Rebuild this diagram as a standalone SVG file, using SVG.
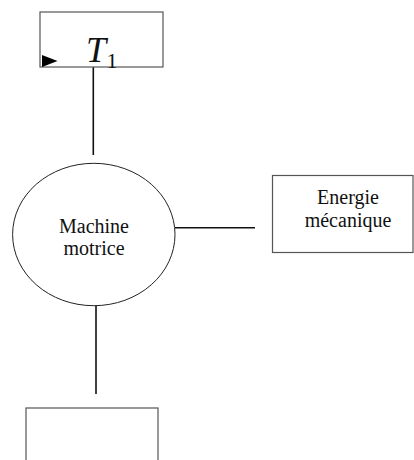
<svg xmlns="http://www.w3.org/2000/svg" width="414" height="460" viewBox="0 0 414 460">
  <style>
    .box { fill: #ffffff; stroke: #555555; stroke-width: 1.2; }
    .oval { fill: #ffffff; stroke: #222222; stroke-width: 1; }
    .wire { stroke: #111111; stroke-width: 1.6; fill: none; }
    .lbl { font-family: "Liberation Serif", "Times New Roman", serif; font-size: 20px; fill: #111111; text-anchor: middle; }
    .math { font-family: "Liberation Serif", "Times New Roman", serif; fill: #111111; }
  </style>
  <g id="connectors">
    <line class="wire" x1="93.3" y1="67" x2="93.3" y2="155"/>
    <line class="wire" x1="175" y1="227.7" x2="255" y2="227.7"/>
    <line class="wire" x1="96" y1="306" x2="96" y2="394"/>
  </g>
  <g id="t1">
    <rect class="box" x="40" y="12" width="123" height="55"/>
    <polygon points="42,55 57.5,61 42,67" fill="#000000"/>
    <text class="math" x="86" y="62" font-size="36" font-style="italic">T</text>
    <text class="math" x="106.5" y="68" font-size="22">1</text>
  </g>
  <g id="machine">
    <ellipse class="oval" cx="93.8" cy="234.5" rx="81.2" ry="71.2"/>
    <text class="lbl" x="94" y="233">Machine</text>
    <text class="lbl" x="94" y="255">motrice</text>
  </g>
  <g id="energie">
    <rect class="box" x="272.5" y="175.5" width="140.5" height="77"/>
    <text class="lbl" x="348" y="204">Energie</text>
    <text class="lbl" x="348" y="227">mécanique</text>
  </g>
  <g id="bottom">
    <rect class="box" x="26" y="408" width="132" height="60"/>
  </g>
</svg>
